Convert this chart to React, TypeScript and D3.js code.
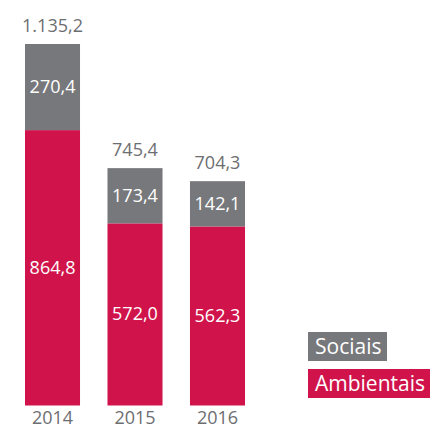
import React from "react";
import * as d3 from "d3";

const years = ["2014", "2015", "2016"];
const ambientais = [864.8, 572.0, 562.3];
const sociais = [270.4, 173.4, 142.1];
const totals = [1135.2, 745.4, 704.3];
const seriesNames = ["Sociais", "Ambientais"];

const fmt = (v: number) => {
  const s = v.toFixed(1).split(".");
  const intPart = s[0].replace(/\B(?=(\d{3})+(?!\d))/g, ".");
  return intPart + "," + s[1];
};

const RED = "#D0144B";
const GRAY = "#77787B";
const TEXT_GRAY = "#6D6E71";
const FONT = "'Open Sans', 'Noto Sans', sans-serif";

export default function App() {
  const W = 430;
  const H = 429;
  const x = d3.scaleBand<string>().domain(years).range([25, 245]).paddingInner(0.333).paddingOuter(0);
  const y = d3.scaleLinear().domain([0, d3.max(totals) as number]).range([405.5, 44]);

  const stackData = years.map((yr, i) => ({ year: yr, Ambientais: ambientais[i], Sociais: sociais[i] }));
  const stack = d3.stack<any>().keys(["Ambientais", "Sociais"]);
  const series = stack(stackData);
  const colors: Record<string, string> = { Ambientais: RED, Sociais: GRAY };

  const legendItems = [
    { name: seriesNames[0], color: GRAY, y: 332, w: 79 },
    { name: seriesNames[1], color: RED, y: 369, w: 122 },
  ];

  return (
    <svg width={W} height={H} style={{ position: "absolute", left: 0, top: 0 }} fontFamily={FONT}>
      {series.map((s) => (
        <g key={s.key}>
          {s.map((d, i) => {
            const x0 = x(years[i]) as number;
            const y0 = y(d[1]);
            const y1 = y(d[0]);
            return (
              <g key={i}>
                <rect x={x0} y={y0} width={x.bandwidth()} height={y1 - y0} fill={colors[s.key]} />
                <text
                  x={x0 + x.bandwidth() / 2}
                  y={(y0 + y1) / 2 + 1}
                  textAnchor="middle"
                  dominantBaseline="middle"
                  fill="#fff"
                  fontSize={18}
                >
                  {fmt(d[1] - d[0])}
                </text>
              </g>
            );
          })}
        </g>
      ))}
      {totals.map((t, i) => (
        <text
          key={"t" + i}
          x={(x(years[i]) as number) + x.bandwidth() / 2}
          y={y(t) - 12}
          textAnchor="middle"
          fill={TEXT_GRAY}
          fontSize={18}
        >
          {fmt(t)}
        </text>
      ))}
      {years.map((yr) => (
        <text
          key={yr}
          x={(x(yr) as number) + x.bandwidth() / 2}
          y={424}
          textAnchor="middle"
          fill={TEXT_GRAY}
          fontSize={18}
        >
          {yr}
        </text>
      ))}
      {legendItems.map((l) => (
        <g key={l.name}>
          <rect x={308} y={l.y} width={l.w} height={29} fill={l.color} />
          <text x={315} y={l.y + 22} fill="#fff" fontSize={21}>
            {l.name}
          </text>
        </g>
      ))}
    </svg>
  );
}
